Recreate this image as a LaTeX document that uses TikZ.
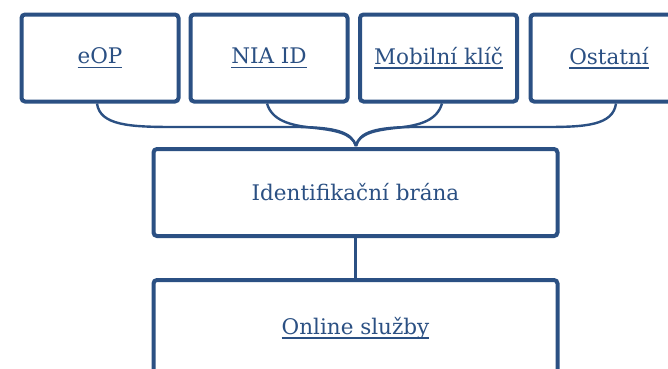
\documentclass[tikz,border=0pt]{standalone}
\usepackage{fontspec}
\setmainfont{DejaVu Serif}
\definecolor{navy}{HTML}{2B5083}
\newcommand{\ulnk}[1]{\setbox0\hbox{#1}\rlap{\rule[-4.3pt]{\wd0}{1.3pt}}\box0}
\tikzset{
  boxnode/.style={draw=navy, line width=4pt, rounded corners=3.5pt, minimum width=157pt, minimum height=87pt, inner sep=0pt, text=navy, font=\fontsize{21.5}{25}\selectfont},
  widebox/.style={boxnode, minimum width=404pt},
  conn/.style={draw=navy, line width=2.4pt}
}
\begin{document}
\begin{tikzpicture}[x=1pt,y=-1pt]
\useasboundingbox (0,0) rectangle (668,368);
\clip (0,0) rectangle (668,368);
\fill[white] (0,0) rectangle (668,368);
\node[boxnode] (eop) at (100,58) {\ulnk{eOP}};
\node[boxnode] (nia) at (269,58) {\ulnk{NIA ID}};
\node[boxnode] (mob) at (438.5,58) {\ulnk{Mobilní klíč}};
\node[boxnode] (ost) at (609,58) {\ulnk{Ostatní}};
\node[widebox] (brana) at (355.5,192.5) {Identifikační brána};
\node[widebox, minimum height=96pt] (online) at (355.5,328) {\ulnk{Online služby}};
\coordinate (a) at ([xshift=-3pt]eop.south);
\coordinate (b) at ([xshift=-2pt]nia.south);
\coordinate (c) at ([xshift=3.5pt]mob.south);
\coordinate (d) at ([xshift=7pt]ost.south);
\coordinate (m) at ([xshift=0.5pt,yshift=1pt]brana.north);
\draw[conn] (a) .. controls ++(3,22) and (130,127) .. (175,127) -- (295,127) .. controls (335,127) and (352,132) .. (m);
\draw[conn] (b) .. controls ++(5,17) and (290,125) .. (310,127.5) .. controls (335,130) and (352,133) .. (m);
\draw[conn] (c) .. controls ++(-5,17) and (420,125) .. (400,127.5) .. controls (376,130) and (359,133) .. (m);
\draw[conn] (d) .. controls ++(-3,22) and (585,127) .. (545,127) -- (415,127) .. controls (376,127) and (359,132) .. (m);
\draw[conn] (brana) -- (online);
\end{tikzpicture}
\end{document}
